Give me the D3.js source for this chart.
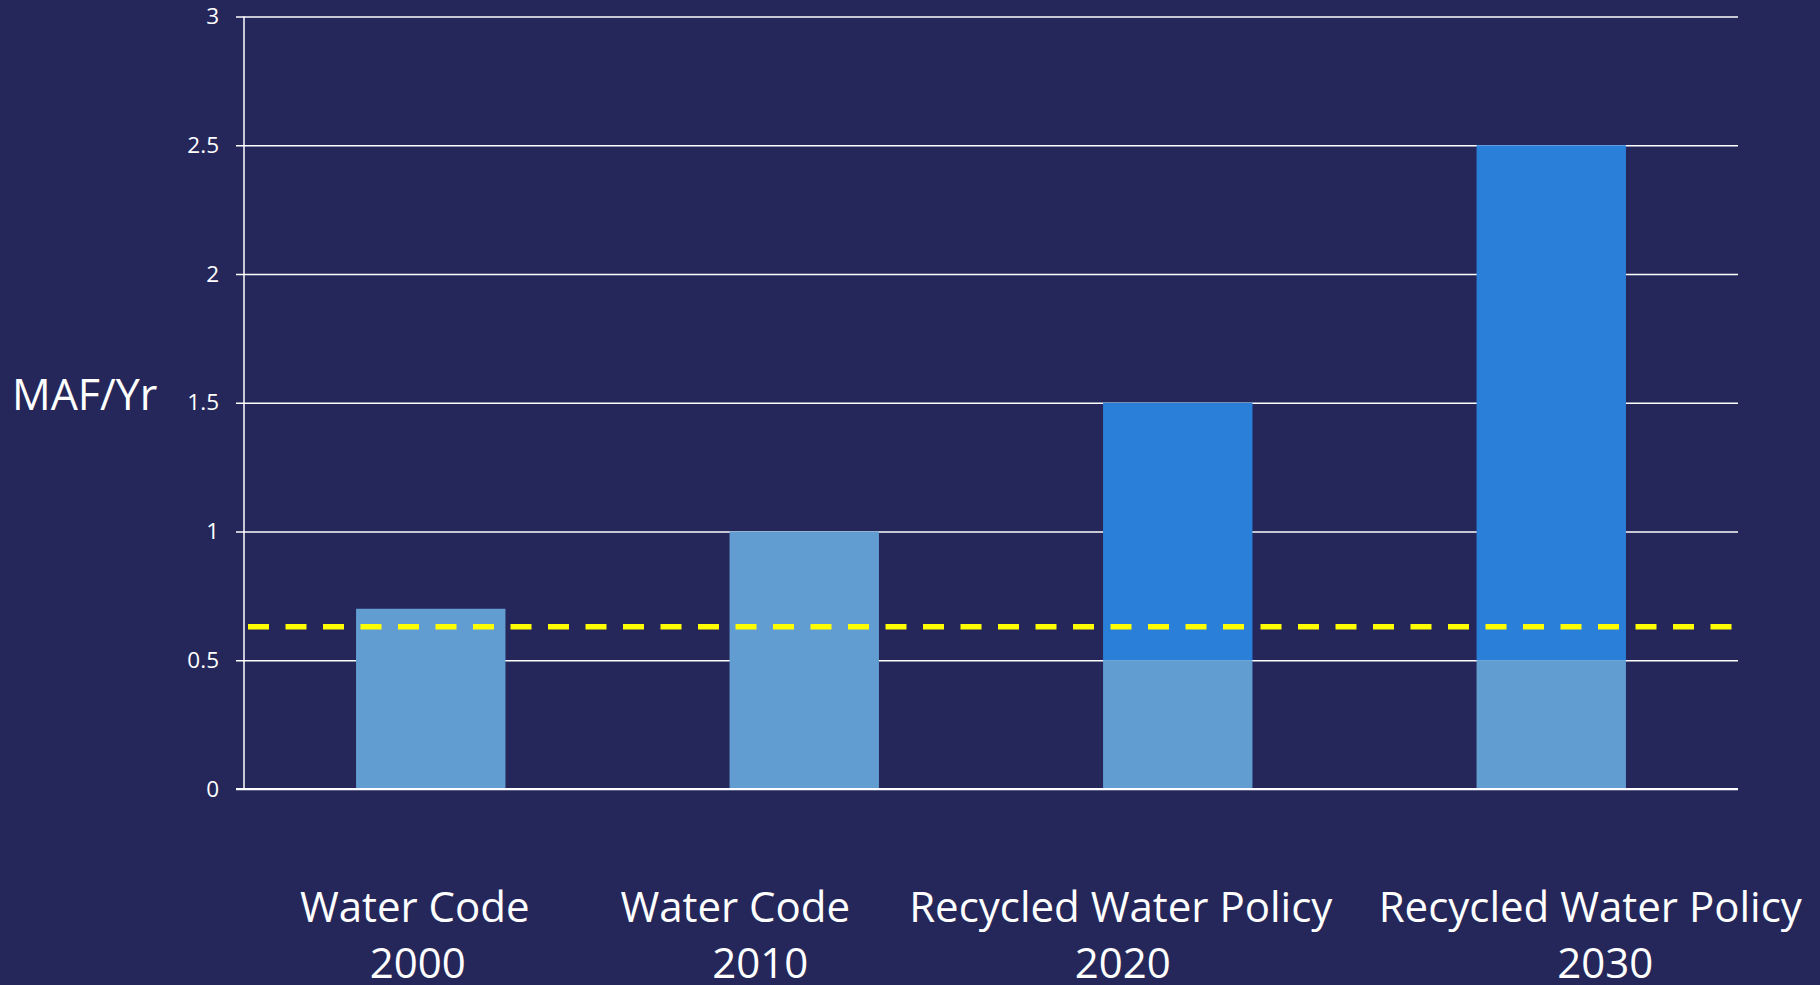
<!DOCTYPE html>
<html>
<head>
<meta charset="utf-8">
<script src="https://cdn.jsdelivr.net/npm/d3@7"></script>
<style>
  html, body { margin: 0; padding: 0; background: #25275a; overflow: hidden; }
  svg { display: block; }
  text { font-family: "Open Sans", "Noto Sans", sans-serif; fill: #ffffff; }
</style>
</head>
<body>
<svg id="chart" width="1820" height="985"></svg>
<script>
// chart data
const categories = ['wc2000', 'wc2010', 'rwp2020', 'rwp2030'];
const labelLines = [
  ['Water Code', '2000'],
  ['Water Code', '2010'],
  ['Recycled Water Policy', '2020'],
  ['Recycled Water Policy', '2030']
];
const baseValues = [0.7, 1.0, 0.5, 0.5];     // lighter blue, bottom segment
const addedValues = [0, 0, 1.0, 2.0];        // darker blue, top segment
const yTicks = [0, 0.5, 1, 1.5, 2, 2.5, 3];
const refLine = 0.63;                        // yellow dashed line
const yLabel = 'MAF/Yr';

// layout
const W = 1820, H = 985;
const plot = { left: 244, right: 1738, top: 16.5, bottom: 789 };
// text boxes on the slide are not quite centred on the bars
const labelDx = [[-16, -13], [-69, -44], [-57, -55], [39, 54]];

const svg = d3.select('#chart');

const x = d3.scaleBand().domain(categories)
  .range([plot.left, plot.right]).paddingInner(0.6).paddingOuter(0.3);
const y = d3.scaleLinear().domain([0, 3]).range([plot.bottom, plot.top]);

// gridlines + ticks
const yAxis = d3.axisLeft(y).tickValues(yTicks).tickFormat(d3.format('')).tickSize(8).tickPadding(17);
const axG = svg.append('g').attr('transform', `translate(${plot.left},0)`).call(yAxis);
axG.select('.domain').remove();
axG.selectAll('.tick line').attr('stroke', '#ffffff').attr('stroke-width', 1.5);
axG.selectAll('.tick text').attr('fill', '#ffffff').style('font-size', '22.5px');
axG.selectAll('.tick').append('line')
  .attr('x1', 0).attr('x2', plot.right - plot.left)
  .attr('stroke', '#ffffff').attr('stroke-width', 1.5);

// vertical axis line
svg.append('line')
  .attr('x1', plot.left).attr('x2', plot.left)
  .attr('y1', y(3)).attr('y2', y(0))
  .attr('stroke', '#ffffff').attr('stroke-width', 1.5);

// bars
const bars = svg.append('g');
bars.selectAll('rect.base').data(categories).join('rect')
  .attr('class', 'base')
  .attr('x', d => x(d)).attr('width', x.bandwidth())
  .attr('y', (d, i) => y(baseValues[i]))
  .attr('height', (d, i) => y(0) - y(baseValues[i]))
  .attr('fill', '#629dd1');
bars.selectAll('rect.added').data(categories).join('rect')
  .attr('class', 'added')
  .attr('x', d => x(d)).attr('width', x.bandwidth())
  .attr('y', (d, i) => y(baseValues[i] + addedValues[i]))
  .attr('height', (d, i) => y(baseValues[i]) - y(baseValues[i] + addedValues[i]))
  .attr('fill', '#2a7fd8');

// baseline redrawn over bars
svg.append('line')
  .attr('x1', plot.left - 8).attr('x2', plot.right)
  .attr('y1', y(0)).attr('y2', y(0))
  .attr('stroke', '#ffffff').attr('stroke-width', 2);

// reference dashed line
svg.append('line')
  .attr('x1', plot.left + 4).attr('x2', plot.right + 8)
  .attr('y1', y(refLine)).attr('y2', y(refLine))
  .attr('stroke', '#ffff00').attr('stroke-width', 5.5)
  .attr('stroke-dasharray', '21 16.5');

// y label
svg.append('text')
  .attr('x', 12).attr('y', 410)
  .style('font-size', '43px')
  .text(yLabel);

// category labels
const lab = svg.append('g').selectAll('text').data(categories).join('text')
  .attr('text-anchor', 'middle')
  .style('font-size', '42px');
lab.each(function(d, i) {
  const cx = x(d) + x.bandwidth() / 2;
  const t = d3.select(this);
  labelLines[i].forEach((line, j) => {
    t.append('tspan')
      .attr('x', cx + labelDx[i][j])
      .attr('y', 922 + j * 56)
      .text(line);
  });
});
</script>
</body>
</html>
